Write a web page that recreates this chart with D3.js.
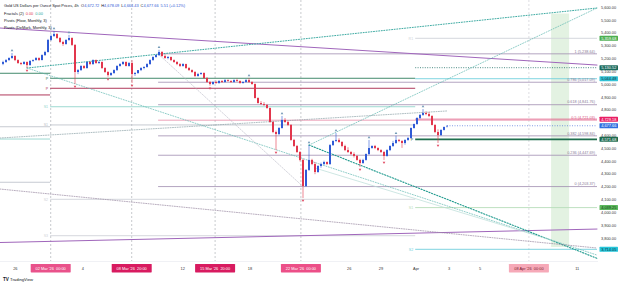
<!DOCTYPE html>
<html><head><meta charset="utf-8">
<script src="https://cdn.jsdelivr.net/npm/d3@7"></script>
<style>body{margin:0;background:#fff;}svg{display:block;font-family:"Liberation Sans",Arial,sans-serif;}</style>
</head><body><svg id="c" width="625" height="287"></svg>
<script>
// ---------------- DATA ----------------
const opens = [5160,5175,5190,5206,5222,5190,5167,5159,5175,5151,
5183,5190,5206,5190,5229,5253,5347,5378,5393,5362,
5331,5315,5347,5362,5308,5097,5112,5144,5128,5175,
5159,5190,5167,5175,5128,5097,5073,5089,5112,5144,
5159,5175,5144,5167,5081,5089,5112,5128,5136,5159,
5190,5214,5229,5253,5222,5206,5214,5190,5175,5159,
5144,5159,5128,5112,5097,5066,5081,5089,5050,5019,
5003,5019,5011,5027,5019,5034,5027,5019,5034,5027,
5011,5019,5034,5019,5003,4894,4855,4847,4840,4816,
4707,4629,4613,4660,4723,4707,4684,4567,4520,4473,
4411,4208,4333,4411,4379,4317,4364,4379,4395,4379,
4527,4559,4567,4551,4520,4488,4473,4457,4442,4411,
4387,4411,4457,4504,4520,4504,4488,4473,4442,4488,
4520,4543,4567,4559,4543,4567,4582,4660,4691,4738,
4762,4777,4769,4754,4684,4629,4605,4645,4672.72];
const highs = [5185,5198,5212,5245,5228,5196,5175,5182,5180,5190,
5196,5214,5212,5235,5262,5355,5390,5417,5400,5370,
5340,5352,5386,5368,5315,5120,5150,5150,5180,5182,
5196,5195,5182,5180,5135,5104,5095,5118,5150,5166,
5182,5180,5175,5190,5097,5112,5135,5142,5166,5196,
5220,5236,5270,5260,5235,5222,5218,5196,5182,5166,
5166,5162,5136,5118,5104,5090,5095,5095,5058,5027,
5025,5030,5033,5034,5042,5040,5033,5040,5045,5032,
5025,5042,5050,5025,5008,4900,4870,4862,4848,4820,
4715,4640,4668,4754,4738,4715,4690,4575,4528,4480,
4420,4340,4527,4420,4395,4370,4390,4405,4400,4535,
4565,4621,4580,4558,4530,4510,4480,4470,4450,4420,
4420,4462,4567,4525,4528,4510,4495,4480,4495,4525,
4560,4600,4575,4565,4572,4590,4665,4695,4745,4770,
4808,4790,4785,4760,4690,4650,4650,4672,4678.09];
const lows = [5150,5168,5184,5200,5182,5160,5150,5155,5128,5146,
5176,5186,5184,5188,5222,5248,5340,5370,5355,5322,
5300,5310,5340,5300,5003,5080,5105,5120,5122,5150,
5152,5160,5160,5120,5090,5060,5066,5082,5105,5138,
5152,5140,5138,5011,5066,5082,5104,5118,5130,5152,
5184,5208,5222,5215,5200,5196,5182,5168,5150,5136,
5138,5120,5105,5090,5058,5060,5075,5044,5012,4990,
4996,5004,5005,5012,5014,5020,5012,5014,5020,5005,
5006,5014,5012,4998,4890,4850,4840,4832,4810,4700,
4620,4488,4605,4655,4700,4675,4560,4512,4465,4400,
4114,4200,4325,4370,4300,4310,4350,4370,4372,4372,
4520,4550,4545,4510,4480,4465,4450,4430,4405,4356,
4380,4405,4450,4498,4495,4480,4465,4411,4436,4480,
4512,4536,4550,4505,4530,4560,4575,4655,4685,4730,
4755,4760,4745,4680,4620,4543,4598,4640,4664.43];
const closes = [5175,5190,5206,5222,5190,5167,5159,5175,5151,5183,
5190,5206,5190,5229,5253,5347,5378,5393,5362,5331,
5315,5347,5362,5308,5097,5112,5144,5128,5175,5159,
5190,5167,5175,5128,5097,5073,5089,5112,5144,5159,
5175,5144,5167,5081,5089,5112,5128,5136,5159,5190,
5214,5229,5253,5222,5206,5214,5190,5175,5159,5144,
5159,5128,5112,5097,5066,5081,5089,5050,5019,5003,
5019,5011,5027,5019,5034,5027,5019,5034,5027,5011,
5019,5034,5019,5003,4894,4855,4847,4840,4816,4707,
4629,4613,4660,4723,4707,4684,4567,4520,4473,4411,
4208,4333,4411,4379,4317,4364,4379,4395,4379,4527,
4559,4567,4551,4520,4488,4473,4457,4442,4411,4387,
4411,4457,4504,4520,4504,4488,4473,4442,4488,4520,
4543,4567,4559,4543,4567,4582,4660,4691,4738,4762,
4777,4769,4754,4684,4629,4605,4645,4668,4677.66];

const fractalUp = [3,17,22,52,82,93,102,111,122,131,140];
const fractalDown = [8,24,35,43,69,91,100,119,127,145];

const yTicks = [5600,5500,5400,5300,5200,5100,5000,4900,4800,4700,4600,4500,4400,4300,4200,4100,4000,3900,3800,3700];
const timeTickLabels = ["26","4","12","18","26","29","Apr","3","5","11"];
const timeTickIdx = [4.1,26.6,59.9,82.3,115.4,126,137.7,148.7,159,191.4];
const markedLabels = ["02 Mar '26  00:00","08 Mar '26  20:00","15 Mar '26  20:00","22 Mar '26  00:00","08 Apr '26  00:00"];
const markedIdx = [15.9,42.9,70.7,99.3,175.3];

const fibLevels = ["1","0.786","0.618","0.5","0.382","0.236","0"];
const fibPrices = [5238.64,5017.09,4841.76,4721.03,4598.84,4447.69,4203.37];
const fibStartIdx = 51.7, fibEndIdx = 198;

// trend lines: [startIdx, startPrice] -> [endIdx, endPrice]
const trendNames = ["purpleTop","purpleBottom","tealUp1","tealUp2","tealDown1","tealDown2","greyUp","greyDown","fibDiag","lightDiag"];
const trendStart = [[-1,5440],[-1,3767],[8,5128],[102,4527],[8,5128],[102,4527],[-1,4582],[-1,4184],[51.7,5238.64],[104,4348]];
const trendEnd = [[198,5151],[198,3872],[198,5596],[198,5596],[198,3669],[198,3644],[148,4793],[198,3724],[100,4203.37],[186,3763]];

// pivot segments
const pivotFromIdx = [-1,-1,-1,-1,-1, 15.7,15.7,15.7,15.7,15.7,15.7, 137.4,137.4,137.4,137.4,137.4,137.4,137.4];
const pivotToIdx =   [15.7,15.7,15.7,15.7,15.7, 137.4,137.4,137.4,137.4,137.4,137.4, 198,198,198,198,198,198,198];
const pivotPrices =  [5087,4918,4670,4574,4237, 5048,4970,4826,4684,4104,3820, 5359.68,5130.52,5044.48,4729.18,4571.68,4039.25,3714.05];
const pivotLabels =  ["","","","","", "P","P","S1","S1","S2","S3", "R1","","","","P","S1","S2"];
const pivotKinds =   ["green","maroon","grey","lteal","grey", "green","maroon","lteal","grey","lgrey","lgrey", "lgrey","dteal","cyan","pink","dgreen","lgreen","cyan"];

const axisMarkPrices = [5359.68,5130.52,5044.48,4729.18,4677.66,4571.68,4039.25,3714.05];
const bandIdx = [182.7,188.7], bandPrices = [5553,3732];

const legendTitle = "Gold US Dollars per Ounce Spot Prices, 4h";
const legendOHLC = [["O","4,672.72"],["H","4,678.09"],["L","4,664.43"],["C","4,677.66"]];
const legendChange = "5.51 (+0.12%)";

// ---------------- STYLES ----------------
const UP="#2f5ad6", DN="#e2364c";
const trendStyle = {
  purpleTop:{c:"#a066bb",w:1,d:null},
  purpleBottom:{c:"#a066bb",w:1,d:null},
  tealUp1:{c:"#2aa198",w:0.9,d:"1,1.6"},
  tealUp2:{c:"#5fb8b0",w:0.7,d:"1,1.6"},
  tealDown1:{c:"#5fb8b0",w:0.7,d:"1,1.6"},
  tealDown2:{c:"#1f9a8e",w:1.1,d:"1.2,1.6"},
  greyUp:{c:"#8da2a8",w:0.7,d:"1,1.4"},
  greyDown:{c:"#9a8aa2",w:0.7,d:"1,1.4"},
  fibDiag:{c:"#b7b7c4",w:0.6,d:"1.5,1.5"},
  lightDiag:{c:"#b9dcd7",w:0.7,d:null}
};
const pivotStyle = {
  green:{c:"#2e7d5b",w:0.9,d:null},
  maroon:{c:"#b03a5b",w:1,d:null},
  grey:{c:"#b9bec6",w:0.8,d:null},
  lteal:{c:"#92d5cd",w:0.9,d:null},
  lgrey:{c:"#d0d3d9",w:0.9,d:null},
  dteal:{c:"#1f6f66",w:0.8,d:"1,1.4"},
  cyan:{c:"#6fcfdc",w:0.9,d:null},
  pink:{c:"#e0507e",w:0.8,d:null},
  dgreen:{c:"#1f6e4e",w:1.6,d:null},
  lgreen:{c:"#b7dcb9",w:0.9,d:null}
};
const axisMarkStyle = [
  {bg:"#4caf50",fg:"#fff"},{bg:"#1b6b5e",fg:"#fff"},{bg:"#33c3d6",fg:"#0b2f3a"},
  {bg:"#e91e63",fg:"#fff"},{bg:"#2f6fe0",fg:"#fff"},{bg:"#1e6b4f",fg:"#fff"},
  {bg:"#5cb85c",fg:"#0e3a12"},{bg:"#26c6da",fg:"#0b2f3a"}
];
const markedStyle = [
  {bg:"#e9528b",fg:"#fff"},{bg:"#d81b60",fg:"#fff"},{bg:"#d81b60",fg:"#fff"},{bg:"#ec4f88",fg:"#fff"},{bg:"#f6a9b8",fg:"#7a1c2e"}
];

// ---------------- SCALES ----------------
const svg = d3.select("#c");
const PR = 597, PB = 261;
const x = d3.scaleLinear().domain([0,148]).range([3,447]);
const y = d3.scaleLinear().domain([3700,5600]).range([251.1,7.5]);
const fmt = d3.format(",.2f");

svg.append("rect").attr("width",625).attr("height",287).attr("fill","#fff");
svg.append("defs").append("clipPath").attr("id","plot").append("rect").attr("x",0).attr("y",0).attr("width",PR+1).attr("height",PB);
const g = svg.append("g").attr("clip-path","url(#plot)");

// band
g.append("rect").attr("x",x(bandIdx[0])).attr("width",x(bandIdx[1])-x(bandIdx[0]))
 .attr("y",y(bandPrices[0])).attr("height",y(bandPrices[1])-y(bandPrices[0]))
 .attr("fill","#e3f2e2");

// vertical dashed lines
g.selectAll("line.vd").data(markedIdx).join("line")
 .attr("x1",d=>x(d)).attr("x2",d=>x(d)).attr("y1",0).attr("y2",PB)
 .attr("stroke",(d,i)=>i===4?"#c4c6cc":"#a3a6ad").attr("stroke-width",0.6).attr("stroke-dasharray","2,2");

// pivots
const pivots = pivotPrices.map((p,i)=>({p,a:pivotFromIdx[i],b:pivotToIdx[i],lbl:pivotLabels[i],k:pivotKinds[i]}));
g.selectAll("line.pv").data(pivots).join("line")
 .attr("x1",d=>Math.max(0,x(d.a))).attr("x2",d=>x(d.b)).attr("y1",d=>y(d.p)).attr("y2",d=>y(d.p))
 .attr("stroke",d=>pivotStyle[d.k].c).attr("stroke-width",d=>pivotStyle[d.k].w)
 .attr("stroke-dasharray",d=>pivotStyle[d.k].d);
g.selectAll("text.pv").data(pivots.filter(d=>d.lbl)).join("text")
 .attr("x",d=>x(d.a)-2).attr("y",d=>y(d.p)+1.3).attr("text-anchor","end")
 .attr("font-size",3.6).attr("fill",d=>pivotStyle[d.k].c).text(d=>d.lbl);

// fib levels
const fibs = fibPrices.map((p,i)=>({p,l:fibLevels[i]}));
g.selectAll("line.fib").data(fibs).join("line")
 .attr("x1",x(fibStartIdx)).attr("x2",x(fibEndIdx)).attr("y1",d=>y(d.p)).attr("y2",d=>y(d.p))
 .attr("stroke",d=>d.l==="0.5"?"#e98aa8":"#a08db0").attr("stroke-width",0.8);
g.selectAll("text.fib").data(fibs).join("text")
 .attr("x",x(fibEndIdx)-2).attr("y",d=>y(d.p)-1.3).attr("text-anchor","end")
 .attr("font-size",3.8).attr("fill",d=>d.l==="0.5"?"#d9547f":"#8a7a98")
 .text(d=>`${d.l} (${fmt(d.p)})`);

// trend lines
const trends = trendNames.map((n,i)=>({n,s:trendStart[i],e:trendEnd[i]}));
g.selectAll("line.tr").data(trends).join("line")
 .attr("x1",d=>x(d.s[0])).attr("y1",d=>y(d.s[1])).attr("x2",d=>x(d.e[0])).attr("y2",d=>y(d.e[1]))
 .attr("stroke",d=>trendStyle[d.n].c).attr("stroke-width",d=>trendStyle[d.n].w)
 .attr("stroke-dasharray",d=>trendStyle[d.n].d).attr("stroke-linecap","round");

// candles
const bars = closes.map((c,i)=>({i,o:opens[i],h:highs[i],l:lows[i],c}));
g.selectAll("line.wk").data(bars).join("line")
 .attr("x1",d=>x(d.i)).attr("x2",d=>x(d.i)).attr("y1",d=>y(d.h)).attr("y2",d=>y(d.l))
 .attr("stroke",d=>d.c>=d.o?UP:DN).attr("stroke-width",0.6);
g.selectAll("rect.bd").data(bars).join("rect")
 .attr("x",d=>x(d.i)-1).attr("width",2)
 .attr("y",d=>y(Math.max(d.o,d.c))).attr("height",d=>Math.max(0.6,Math.abs(y(d.o)-y(d.c))))
 .attr("fill",d=>d.c>=d.o?UP:DN);

// fractals
g.selectAll("path.fu").data(fractalUp).join("path")
 .attr("d",d3.symbol(d3.symbolTriangle,3))
 .attr("transform",d=>`translate(${x(d)},${y(highs[d])-2.5})`).attr("fill","#6f97b5");
g.selectAll("path.fd").data(fractalDown).join("path")
 .attr("d",d3.symbol(d3.symbolTriangle,3))
 .attr("transform",d=>`translate(${x(d)},${y(lows[d])+2.5}) rotate(180)`).attr("fill","#e0455e");

// last price line
const lastC = closes[closes.length-1];
g.append("line").attr("x1",x(closes.length-1)).attr("x2",PR).attr("y1",y(lastC)).attr("y2",y(lastC))
 .attr("stroke",UP).attr("stroke-width",0.6).attr("stroke-dasharray","1,1.5");

// ---------------- AXES ----------------
// right price axis (ticks hidden where a price mark box covers them)
const shownTicks = yTicks.filter(t=>axisMarkPrices.every(p=>Math.abs(y(p)-y(t))>3.2));
const ya = svg.append("g");
ya.selectAll("text").data(shownTicks).join("text")
 .attr("x",601).attr("y",d=>y(d)+1.3).attr("font-size",3.9).attr("fill","#333").text(d=>fmt(d));
const marks = axisMarkPrices.map((p,i)=>({p,s:axisMarkStyle[i]}));
const mg = svg.append("g").selectAll("g").data(marks).join("g")
 .attr("transform",d=>`translate(599.5,${y(d.p)})`);
mg.append("rect").attr("x",0).attr("y",-2.5).attr("width",18.5).attr("height",5).attr("rx",0.6).attr("fill",d=>d.s.bg);
mg.append("text").attr("x",9.25).attr("y",1.4).attr("text-anchor","middle").attr("font-size",3.9)
 .attr("fill",d=>d.s.fg).text(d=>fmt(d.p));

// time axis
svg.append("line").attr("x1",0).attr("x2",PR+1).attr("y1",PB+0.5).attr("y2",PB+0.5).attr("stroke","#e6e8ee").attr("stroke-width",0.6);
svg.append("g").selectAll("text").data(timeTickLabels).join("text")
 .attr("x",(d,i)=>x(timeTickIdx[i])).attr("y",270).attr("text-anchor","middle")
 .attr("font-size",3.9).attr("fill","#333").text(d=>d);
const tm = svg.append("g").selectAll("g").data(markedLabels).join("g")
 .attr("transform",(d,i)=>`translate(${x(markedIdx[i])},268.2)`);
tm.append("rect").attr("x",-20).attr("y",-4.2).attr("width",40).attr("height",8.4).attr("rx",0.6)
 .attr("fill",(d,i)=>markedStyle[i].bg);
tm.append("text").attr("x",0).attr("y",1.4).attr("text-anchor","middle").attr("font-size",3.9)
 .attr("fill",(d,i)=>markedStyle[i].fg).attr("xml:space","preserve").text(d=>d);

// ---------------- LEGEND ----------------
const lg = svg.append("g").attr("font-size",3.9).attr("fill","#131722");
const t1 = lg.append("text").attr("x",4).attr("y",7.4);
t1.append("tspan").text(legendTitle);
legendOHLC.forEach((p,i)=>{
  t1.append("tspan").attr("dx",i===0?2.5:2).text(p[0]);
  t1.append("tspan").attr("fill",UP).text(p[1]);
});
t1.append("tspan").attr("dx",2).attr("fill",UP).text(legendChange);
const t2 = lg.append("text").attr("x",4).attr("y",14.6);
t2.append("tspan").text("Fractals (2)");
t2.append("tspan").attr("dx",2).attr("fill",DN).text("0.00");
t2.append("tspan").attr("dx",2).attr("fill","#26a69a").text("0.00");
lg.append("text").attr("x",4).attr("y",21.6).text("Pivots (Floor, Monthly, 3)");
lg.append("text").attr("x",4).attr("y",28.6).text("Pivots (DeMark, Monthly, 3)");

// TradingView logo
const logo = svg.append("g");
logo.append("text").attr("x",3).attr("y",281).attr("font-size",4.6).attr("font-weight","bold").attr("fill","#131722").text("TV");
logo.append("text").attr("x",10).attr("y",281).attr("font-size",4.2).attr("fill","#131722").text("TradingView");
</script></body></html>
